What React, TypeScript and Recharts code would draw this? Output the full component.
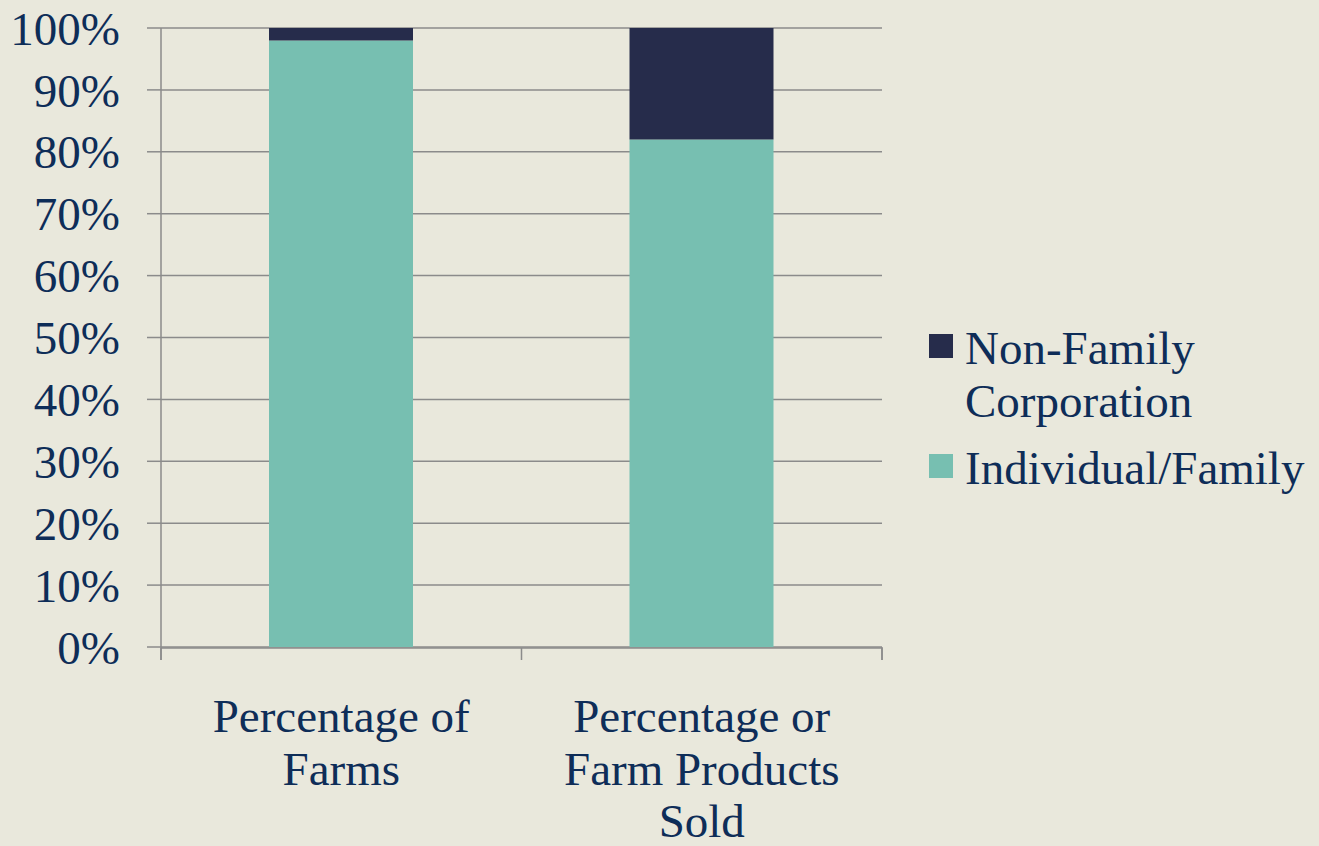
import { BarChart, Bar, XAxis, YAxis, CartesianGrid, Legend } from "recharts";

// stacked share of farms vs share of products sold, by ownership type

const categories = ["Percentage of Farms", "Percentage or Farm Products Sold"];
const individualFamily = [98, 82];
const nonFamilyCorp = [2, 18];
const yTicks = [0, 10, 20, 30, 40, 50, 60, 70, 80, 90, 100];
const edgeTicks = [0, 1, 2];

const data = categories.map((name, i) => ({
  name,
  individual: individualFamily[i],
  corp: nonFamilyCorp[i],
}));

const FONT = "'Liberation Serif', 'Times New Roman', serif";
const INK = "#0e2d58";
const GRID = "#8b8b8b";
const TEAL = "#77bfb1";
const NAVY = "#262c4b";
const CAT_MARGIN = 52;

// greedy word wrap using canvas text metrics
function wrap(text: string, maxW: number, font: string) {
  const ctx = document.createElement("canvas").getContext("2d")!;
  ctx.font = font;
  const lines: string[] = [];
  let cur = "";
  for (const w of text.split(" ")) {
    const next = cur ? cur + " " + w : w;
    if (cur && ctx.measureText(next).width > maxW) {
      lines.push(cur);
      cur = w;
    } else cur = next;
  }
  if (cur) lines.push(cur);
  return lines;
}

// category label + tick marks at the band boundaries
function CatTick(props: any) {
  const { x, y, payload, width, visibleTicksCount, index } = props;
  const lines = wrap(String(payload.value), 320, `47px ${FONT}`);
  const band = Number(width) / Number(visibleTicksCount);
  const axisY = y - CAT_MARGIN;
  const ok = Number.isFinite(band) && band > 0;
  return (
    <g>
      {ok && <line x1={x - band / 2} x2={x - band / 2} y1={axisY} y2={axisY + 12} stroke={GRID} strokeWidth={1.5} />}
      {ok && index === visibleTicksCount - 1 && (
        <line x1={x + band / 2} x2={x + band / 2} y1={axisY} y2={axisY + 12} stroke={GRID} strokeWidth={1.5} />
      )}
      <text x={x} y={y} textAnchor="middle" fill={INK} stroke="none" fontSize={47} fontFamily={FONT}>
        {lines.map((l, i) => (
          <tspan key={i} x={x} dy={i === 0 ? 32 : 52.5}>
            {l}
          </tspan>
        ))}
      </text>
    </g>
  );
}

function NoTick() {
  return <g />;
}

function LegendBox(props: any) {
  const items = [...(props.payload || [])].reverse();
  return (
    <div style={{ fontFamily: FONT, fontSize: 47, color: INK, lineHeight: "53px" }}>
      {items.map((it: any) => (
        <div key={it.value} style={{ display: "flex", alignItems: "flex-start", marginBottom: 14 }}>
          <div style={{ width: 24, height: 24, background: it.color, marginTop: 12, marginRight: 12, flex: "none" }} />
          <div style={{ width: 350 }}>{it.value}</div>
        </div>
      ))}
    </div>
  );
}

export default function App() {
  return (
    <div style={{ position: "absolute", left: 0, top: 0, width: 1319, height: 846, background: "#e9e8dc" }}>
      <BarChart
        width={1319}
        height={846}
        data={data}
        margin={{ top: 28, right: 437, bottom: 0, left: 0 }}
      >
        <CartesianGrid xAxisId="bCat" horizontal vertical={false} stroke={GRID} strokeWidth={1.5} />
        <XAxis
          xAxisId="aEdge"
          type="number"
          domain={[0, 2]}
          allowDataOverflow
          ticks={edgeTicks}
          interval={0}
          height={1}
          axisLine={false}
          tick={<NoTick />}
          tickSize={13}
          tickLine={{ stroke: GRID, strokeWidth: 1.5 }}
        />
        <XAxis
          xAxisId="bCat"
          dataKey="name"
          height={198}
          axisLine={{ stroke: GRID, strokeWidth: 1.5 }}
          tickLine={false}
          tickSize={0}
          tickMargin={CAT_MARGIN}
          interval={0}
          tick={<CatTick />}
        />
        <YAxis
          width={161}
          domain={[0, 100]}
          ticks={yTicks}
          interval={0}
          tickFormatter={(v) => `${v}%`}
          axisLine={{ stroke: GRID, strokeWidth: 1.5 }}
          tickLine={{ stroke: GRID, strokeWidth: 1.5 }}
          tickSize={14}
          tickMargin={27}
          tick={{ fill: INK, fontSize: 47, fontFamily: FONT }}
        />
        <Legend
          layout="horizontal"
          align="center"
          verticalAlign="middle"
          content={<LegendBox />}
          wrapperStyle={{ left: 929, top: 322, width: 390, height: 200 }}
        />
        <Bar xAxisId="bCat" dataKey="individual" name="Individual/Family" stackId="s" fill={TEAL} barSize={144} isAnimationActive={false} />
        <Bar xAxisId="bCat" dataKey="corp" name="Non-Family Corporation" stackId="s" fill={NAVY} barSize={144} isAnimationActive={false} />
      </BarChart>
    </div>
  );
}
